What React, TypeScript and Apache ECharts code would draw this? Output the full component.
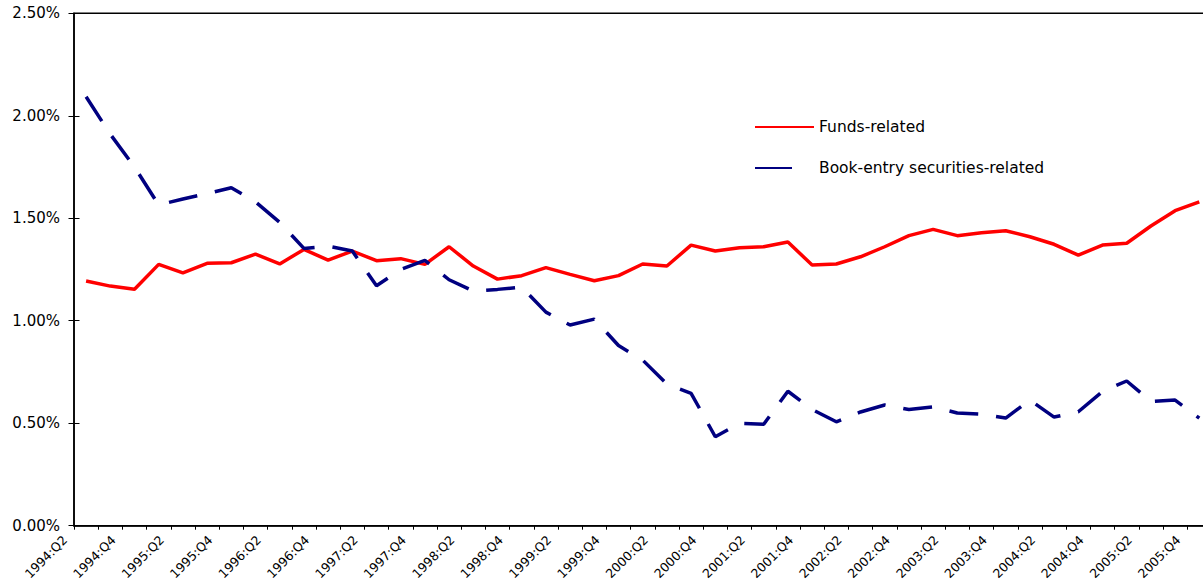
import React, { useEffect, useRef } from "react";
import * as echarts from "echarts";

const quarters: string[] = [
  "1994:Q2", "1994:Q3", "1994:Q4",
  "1995:Q1", "1995:Q2", "1995:Q3", "1995:Q4",
  "1996:Q1", "1996:Q2", "1996:Q3", "1996:Q4",
  "1997:Q1", "1997:Q2", "1997:Q3", "1997:Q4",
  "1998:Q1", "1998:Q2", "1998:Q3", "1998:Q4",
  "1999:Q1", "1999:Q2", "1999:Q3", "1999:Q4",
  "2000:Q1", "2000:Q2", "2000:Q3", "2000:Q4",
  "2001:Q1", "2001:Q2", "2001:Q3", "2001:Q4",
  "2002:Q1", "2002:Q2", "2002:Q3", "2002:Q4",
  "2003:Q1", "2003:Q2", "2003:Q3", "2003:Q4",
  "2004:Q1", "2004:Q2", "2004:Q3", "2004:Q4",
  "2005:Q1", "2005:Q2", "2005:Q3", "2005:Q4",
];

// label axis: one slot per category boundary (the last boundary has no label)
const quarterLabels: string[] = [...quarters, ""];

const fundsRelated: number[] = [
  1.194, 1.169, 1.154, 1.275, 1.234, 1.28, 1.283, 1.325, 1.277, 1.348,
  1.296, 1.34, 1.293, 1.303, 1.275, 1.361, 1.267, 1.203, 1.22, 1.259,
  1.226, 1.195, 1.22, 1.277, 1.267, 1.369, 1.34, 1.356, 1.361, 1.384,
  1.272, 1.277, 1.312, 1.361, 1.415, 1.446, 1.415, 1.429, 1.439, 1.41,
  1.373, 1.32, 1.369, 1.378, 1.462, 1.537, 1.58,
];

const bookEntryRelated: number[] = [
  2.093, 1.91, 1.75, 1.565, 1.594, 1.62, 1.649, 1.58, 1.48, 1.353,
  1.364, 1.34, 1.171, 1.25, 1.294, 1.2, 1.145, 1.153, 1.164, 1.042,
  0.979, 1.008, 0.879, 0.808, 0.691, 0.646, 0.434, 0.499, 0.495, 0.656,
  0.567, 0.507, 0.555, 0.589, 0.567, 0.58, 0.55, 0.544, 0.525, 0.613,
  0.53, 0.556, 0.655, 0.706, 0.606, 0.613, 0.525,
];

const yMin = 0;
const yMax = 2.5;
const yStep = 0.5;

const FONT = "DejaVu Sans";
const GRID_LEFT = 74;
const GRID_TOP = 13.3;
const GRID_W = 1137.4;
const GRID_H = 512.4;
const LABEL_SHIFT = 9;

export default function App() {
  const ref = useRef<HTMLDivElement | null>(null);

  useEffect(() => {
    if (!ref.current) return;
    const chart = echarts.init(ref.current, undefined, { renderer: "svg" });
    const axisLineStyle = { color: "#000", width: 1.5 };
    const option: any = {
      animation: false,
      backgroundColor: "#fff",
      grid: [
        {
          left: GRID_LEFT,
          top: GRID_TOP,
          width: GRID_W,
          height: GRID_H,
          show: true,
          borderColor: "#000",
          borderWidth: 1.5,
          containLabel: false,
          outerBoundsMode: "none",
        },
        {
          left: GRID_LEFT - LABEL_SHIFT,
          top: GRID_TOP,
          width: GRID_W,
          height: GRID_H,
          show: false,
          containLabel: false,
          outerBoundsMode: "none",
        },
      ],
      legend: {
        orient: "vertical",
        left: 754,
        top: 119,
        padding: 0,
        itemWidth: 59,
        itemHeight: 14,
        itemGap: 25,
        itemStyle: { opacity: 0 },
        textStyle: { fontSize: 15.5, fontFamily: FONT, color: "#000" },
        data: [
          { name: "Funds-related", itemStyle: { opacity: 0 } },
          {
            name: "Book-entry securities-related",
            itemStyle: { opacity: 0 },
            lineStyle: { type: [37, 40] },
          },
        ],
      },
      xAxis: [
        {
          type: "category",
          gridIndex: 0,
          position: "bottom",
          data: quarters,
          boundaryGap: true,
          axisLine: { show: true, lineStyle: axisLineStyle },
          axisTick: { show: true, interval: 0, length: 4, lineStyle: { color: "#000", width: 1 } },
          axisLabel: { show: false },
          splitLine: { show: false },
        },
        {
          type: "category",
          gridIndex: 1,
          position: "bottom",
          data: quarterLabels,
          boundaryGap: false,
          axisLine: { show: false },
          axisTick: { show: false },
          axisLabel: {
            interval: 1,
            rotate: 45,
            margin: 12,
            fontSize: 12.5,
            fontFamily: FONT,
            color: "#000",
          },
          splitLine: { show: false },
        },
      ],
      yAxis: [
        {
          type: "value",
          gridIndex: 0,
          position: "left",
          min: yMin,
          max: yMax,
          interval: yStep,
          axisLine: { show: true, lineStyle: axisLineStyle },
          axisTick: { show: false },
          axisLabel: {
            margin: 14,
            fontSize: 15,
            fontFamily: FONT,
            color: "#000",
            formatter: (v: number) => v.toFixed(2) + "%",
          },
          splitLine: { show: false },
        },
        {
          type: "value",
          gridIndex: 0,
          position: "left",
          offset: -5.5,
          min: yMin,
          max: yMax,
          interval: yStep,
          axisLine: { show: false },
          axisTick: { show: true, inside: false, length: 11, lineStyle: { color: "#000", width: 1 } },
          axisLabel: { show: false },
          splitLine: { show: false },
        },
        {
          type: "value",
          gridIndex: 1,
          show: false,
          min: yMin,
          max: yMax,
          interval: yStep,
        },
      ],
      series: [
        {
          name: "Funds-related",
          type: "line",
          data: fundsRelated,
          xAxisIndex: 0,
          yAxisIndex: 0,
          symbol: "none",
          showSymbol: false,
          lineStyle: { color: "#FF0000", width: 3.5 },
          itemStyle: { color: "#FF0000" },
        },
        {
          name: "Book-entry securities-related",
          type: "line",
          data: bookEntryRelated,
          xAxisIndex: 0,
          yAxisIndex: 0,
          symbol: "none",
          showSymbol: false,
          lineStyle: { color: "#000080", width: 3.5, type: [29, 18] },
          itemStyle: { color: "#000080" },
        },
      ],
    };
    chart.setOption(option);
    return () => chart.dispose();
  }, []);

  return (
    <div
      ref={ref}
      style={{ position: "fixed", left: 0, top: 0, width: 1203, height: 582 }}
    />
  );
}
